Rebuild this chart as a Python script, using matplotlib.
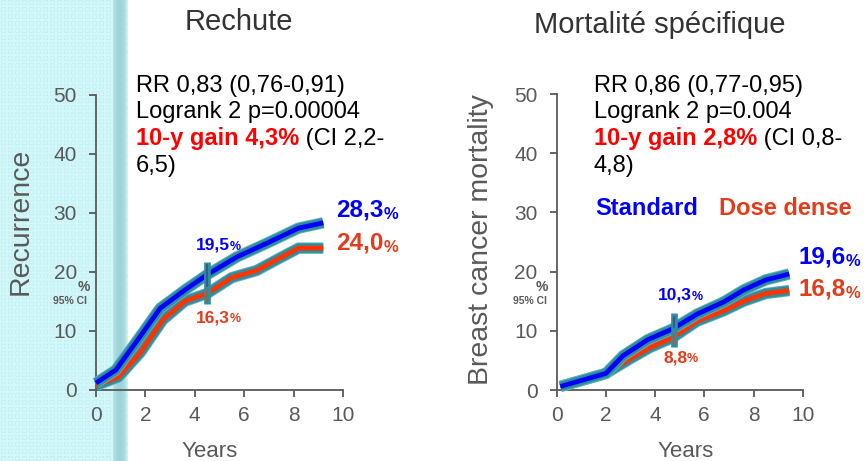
import numpy as np
import matplotlib
matplotlib.use("Agg")
import matplotlib.pyplot as plt
import matplotlib.patheffects as pe

plt.rcParams['font.family'] = ['Liberation Sans', 'DejaVu Sans']

W, H = 864, 461

# ---- data -----------------------------------------------------------------
years_ticks = [0, 2, 4, 6, 8, 10]
pct_ticks = [0, 10, 20, 30, 40, 50]

# Recurrence (left)
rec_std_t = [0.0, 0.8, 1.7, 2.6, 3.6, 4.5, 5.7, 6.9, 8.2, 9.2]
rec_std_y = [1.1, 3.3, 8.5, 13.8, 16.9, 19.5, 22.5, 24.8, 27.4, 28.3]
rec_dd_t = [0.0, 0.9, 1.8, 2.7, 3.6, 4.5, 5.5, 6.5, 7.3, 8.2, 9.2]
rec_dd_y = [0.7, 2.1, 6.3, 11.8, 15.0, 16.3, 19.0, 20.2, 22.0, 24.0, 24.0]
rec_ci_t = 4.5
rec_ci_std = [16.9, 21.7]
rec_ci_dd = [14.6, 17.4]

# Breast cancer mortality (right)
bcm_std_t = [0.15, 2.0, 2.7, 3.7, 4.7, 5.7, 6.8, 7.6, 8.5, 9.45]
bcm_std_y = [0.6, 2.8, 5.8, 8.5, 10.3, 12.8, 14.9, 16.9, 18.6, 19.6]
bcm_dd_t = [0.15, 2.0, 3.0, 3.8, 4.7, 5.7, 6.8, 7.6, 8.5, 9.45]
bcm_dd_y = [0.6, 2.8, 5.3, 7.2, 8.8, 11.6, 13.4, 15.0, 16.3, 16.8]
bcm_ci_t = 4.75
bcm_ci_std = [10.0, 13.0]
bcm_ci_dd = [7.2, 10.0]

BLUE = '#0000ff'
RED = '#ff3300'
RED_TXT = '#e23c1a'
GAIN_RED = '#ff0000'
GRAY = '#595959'
TEAL = '#2f8e9e'
TEAL_LIGHT = '#5fb0bc'


def fx(px):
    return px / W


def fy(py):
    return 1 - py / H


fig = plt.figure(figsize=(W / 100, H / 100), dpi=100)

# ---- decorative cyan band on the left edge --------------------------------
bg = np.ones((H, W, 3))
band_w = 128
yy, xx = np.mgrid[0:H, 0:band_w]
base = np.array([210, 248, 250]) / 255.0
dark = np.array([198, 240, 243]) / 255.0
edge = np.array([158, 212, 216]) / 255.0
cx, cy = xx % 7, yy % 7
pattern = (((cx == 1) | (cx == 5)) & (cy >= 1) & (cy <= 5)) | \
          (((cy == 1) | (cy == 5)) & (cx >= 1) & (cx <= 5))
band = np.where(pattern[..., None], dark, base)
# shaded right edge of the band
w = np.zeros(band_w)
for c in range(112, band_w):
    d = (c - 112) / (band_w - 112)
    w[c] = np.sin(np.pi * min(1.0, d * 1.1)) ** 0.5
band = band * (1 - w[None, :, None]) + edge[None, None, :] * w[None, :, None]
bg[:, :band_w, :] = band
bg_ax = fig.add_axes([0, 0, 1, 1], zorder=-10)
bg_ax.imshow(bg, aspect='auto', interpolation='bilinear', extent=(0, W, H, 0))
bg_ax.set_xlim(0, W)
bg_ax.set_ylim(H, 0)
bg_ax.axis('off')


def outlined(ax, t, y, color, z):
    ax.plot(t, y, color=color, lw=3.4, solid_capstyle='butt', solid_joinstyle='round',
            clip_on=False, zorder=z,
            path_effects=[pe.Stroke(linewidth=8.2, foreground=TEAL_LIGHT),
                          pe.Stroke(linewidth=6.8, foreground=TEAL),
                          pe.Normal()])


def ci_bar(ax, t, ci_std, ci_dd):
    lo, hi = min(ci_dd[0], ci_std[0]), max(ci_dd[1], ci_std[1])
    ax.plot([t, t], [lo, hi], color=TEAL, lw=4.8, solid_capstyle='butt', zorder=6)
    ax.plot([t, t], [ci_std[0] + 0.6, ci_std[1] - 0.6], color='#3a4f8c', lw=1.2, zorder=7)
    ax.plot([t, t], [ci_dd[0] + 0.5, ci_dd[1] - 0.5], color='#d04a2a', lw=1.2, zorder=7)


def setup_axes(rect):
    ax = fig.add_axes(rect)
    ax.set_facecolor('none')
    ax.set_xlim(0, 10)
    ax.set_ylim(0, 50)
    ax.set_xticks(years_ticks)
    ax.set_yticks(pct_ticks)
    for s in ('top', 'right'):
        ax.spines[s].set_visible(False)
    for s in ('left', 'bottom'):
        ax.spines[s].set_color(GRAY)
        ax.spines[s].set_linewidth(1.3)
    ax.tick_params(axis='both', direction='out', length=4.8, width=1.3, color=GRAY,
                   labelcolor=GRAY, labelsize=15)
    ax.tick_params(axis='y', pad=9)
    ax.tick_params(axis='x', pad=7)
    return ax


def pct_label(x, y, num, color, big, small):
    t = fig.text(fx(x), fy(y), num, color=color, fontsize=big, fontweight='bold',
                 ha='left', va='center')
    a = plt.annotate('%', xy=(1, 0), xycoords=t, color=color, fontsize=small,
                     fontweight='bold', ha='left', va='bottom', annotation_clip=False)
    return t, a


def stats_block(x, lines_y, rr, logrank, gain, ci1, ci2):
    fig.text(fx(x), fy(lines_y[0]), rr, fontsize=17, color='black', va='center')
    fig.text(fx(x), fy(lines_y[1]), logrank, fontsize=17, color='black', va='center')
    g = fig.text(fx(x), fy(lines_y[2]), gain, fontsize=17, color=GAIN_RED,
                 fontweight='bold', va='center')
    plt.annotate(ci1, xy=(1, 0), xycoords=g, fontsize=17, color='black',
                 ha='left', va='bottom', annotation_clip=False)
    fig.text(fx(x), fy(lines_y[3]), ci2, fontsize=17, color='black', va='center')


# ---- left panel: recurrence -----------------------------------------------
ax1 = setup_axes([fx(96), fy(389.5), fx(343) - fx(96), fy(95) - fy(389.5)])
outlined(ax1, rec_dd_t, rec_dd_y, RED, 3)
outlined(ax1, rec_std_t, rec_std_y, BLUE, 4)
ci_bar(ax1, rec_ci_t, rec_ci_std, rec_ci_dd)

# ---- right panel: breast cancer mortality ---------------------------------
ax2 = setup_axes([fx(556.7), fy(390), fx(802.7) - fx(556.7), fy(94) - fy(390)])
outlined(ax2, bcm_dd_t, bcm_dd_y, RED, 3)
outlined(ax2, bcm_std_t, bcm_std_y, BLUE, 4)
ci_bar(ax2, bcm_ci_t, bcm_ci_std, bcm_ci_dd)

plt.sca(ax1)

# titles
fig.text(fx(239), fy(22), 'Rechute', fontsize=21, color='#333333', ha='center', va='center')
fig.text(fx(660), fy(25), 'Mortalité spécifique', fontsize=21, color='#333333',
         ha='center', va='center')

# axis titles
fig.text(fx(21), fy(221), 'Recurrence', fontsize=20.5, color=GRAY, rotation=90,
         ha='center', va='center')
fig.text(fx(481), fy(240), 'Breast cancer mortality', fontsize=20.5, color=GRAY,
         rotation=90, ha='center', va='center')
fig.text(fx(210), fy(451), 'Years', fontsize=16, color=GRAY, ha='center', va='center')
fig.text(fx(686), fy(451), 'Years', fontsize=16, color=GRAY, ha='center', va='center')

# unit hints next to the y axes
for xp, xc in ((84, 70), (542, 530)):
    fig.text(fx(xp), fy(287), '%', fontsize=10, color=GRAY, fontweight='bold',
             ha='center', va='center')
    fig.text(fx(xc), fy(301), '95% CI', fontsize=7.5, color=GRAY, fontweight='bold',
             ha='center', va='center')

# statistics
stats_block(136, [86, 112, 139, 166], 'RR 0,83 (0,76-0,91)', 'Logrank 2 p=0.00004',
            '10-y gain 4,3%', ' (CI 2,2-', '6,5)')
stats_block(594, [86, 112, 139, 166], 'RR 0,86 (0,77-0,95)', 'Logrank 2 p=0.004',
            '10-y gain 2,8%', ' (CI 0,8-', '4,8)')

# legend words
fig.text(fx(595), fy(208), 'Standard', fontsize=17, color=BLUE, fontweight='bold',
         ha='left', va='center')
fig.text(fx(719), fy(208), 'Dose dense', fontsize=17, color=RED_TXT, fontweight='bold',
         ha='left', va='center')

# value labels
pct_label(336, 210, '28,3', BLUE, 17.5, 12)
pct_label(336, 243, '24,0', RED_TXT, 17.5, 12)
pct_label(196, 245, '19,5', BLUE, 12.5, 9)
pct_label(196, 318, '16,3', RED_TXT, 12.5, 9)
pct_label(798, 257, '19,6', BLUE, 17.5, 12)
pct_label(798, 289, '16,8', RED_TXT, 17.5, 12)
pct_label(658, 295, '10,3', BLUE, 12.5, 9)
pct_label(663, 358, '8,8', RED_TXT, 12.5, 9)

fig.savefig('out.png', dpi=100)
